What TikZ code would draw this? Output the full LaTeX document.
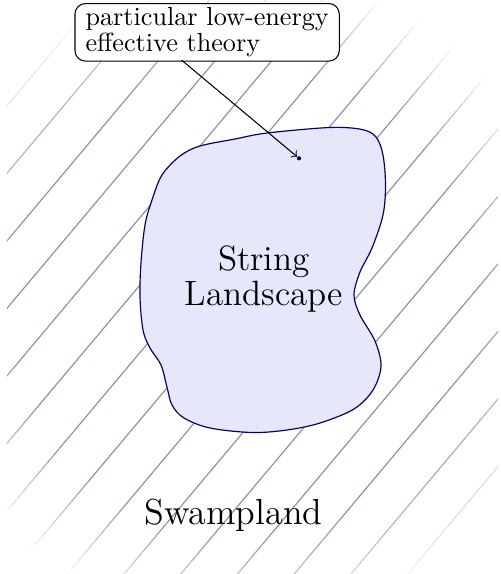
\documentclass[tikz,border=0pt]{standalone}
\definecolor{hatchcol}{RGB}{136,149,168}
\definecolor{blobfill}{RGB}{231,231,252}
\definecolor{blobline}{RGB}{0,0,110}
\tikzset{
  hatchseg/.style={line width=0.45pt, line cap=round},
  blob/.style={draw=blobline, fill=blobfill, line width=0.45pt},
  callout/.style={draw=black, fill=white, rounded corners=4pt, align=left,
    inner xsep=4pt, inner ysep=1.5pt, font=\fontsize{10}{10}\selectfont},
  biglabel/.style={align=center, inner sep=0pt, font=\fontsize{13.4}{13.4}\selectfont},
  swamplabel/.style={inner sep=0pt, font=\fontsize{13.8}{13.8}\selectfont},
  dotmark/.style={circle, fill=blobline, inner sep=0pt, minimum size=1.6pt}
}
\begin{document}
\begin{tikzpicture}[x=0.3817pt,y=-0.3817pt]
\useasboundingbox (0,0) rectangle (500,574);
% hatched swamp area, fading out radially
\begin{scope}
  \clip (7,0) rectangle (500,574);
  \foreach \hk in {-2,...,14} {
    \foreach \hx in {0,6,...,494} {
      \pgfmathsetmacro{\hy}{181.6+67.5*\hk-1.19*\hx}
      \pgfmathsetmacro{\hr}{100*sqrt(((\hx+3-245)/100)^2+((\hy-3.57-300)/100)^2)}
      \pgfmathsetmacro{\hp}{max(0,min(100,(330-\hr)/95*100))}
      \ifdim\hp pt>0.5pt
        \draw[hatchseg, draw=hatchcol!\hp!white] (\hx,\hy) -- ++(6,-7.14);
      \fi
    }
  }
\end{scope}
% string landscape blob
\path[blob] plot[smooth cycle, tension=0.55] coordinates {
  (162,175) (180,156) (200,146) (235,139) (267,133) (330,127.5) (362,129.5)
  (376,137) (383,155) (385.5,185) (383,215) (372,248) (360,272) (354,295)
  (360,315) (375,341) (381,366) (373,390) (354,409) (320,423) (287,430)
  (252,432.5) (210,428) (184,418) (172,405) (167,387) (161,365) (150,348)
  (143,330) (140,297) (141,263) (145,225) (152,200)};
\node[biglabel] (land) at (264,279.3) {String\\Landscape};
\node[swamplabel, anchor=base] (swamp) at (233.5,524.5) {Swampland};
\node[dotmark] (pt) at (299,158.3) {};
\node[callout, anchor=north west] (box) at (74.5,3) {particular low-energy\\effective theory};
\coordinate (arrowstart) at (181.7,60.2);
\draw[->, line width=0.4pt] (arrowstart) -- (pt);
\end{tikzpicture}
\end{document}
